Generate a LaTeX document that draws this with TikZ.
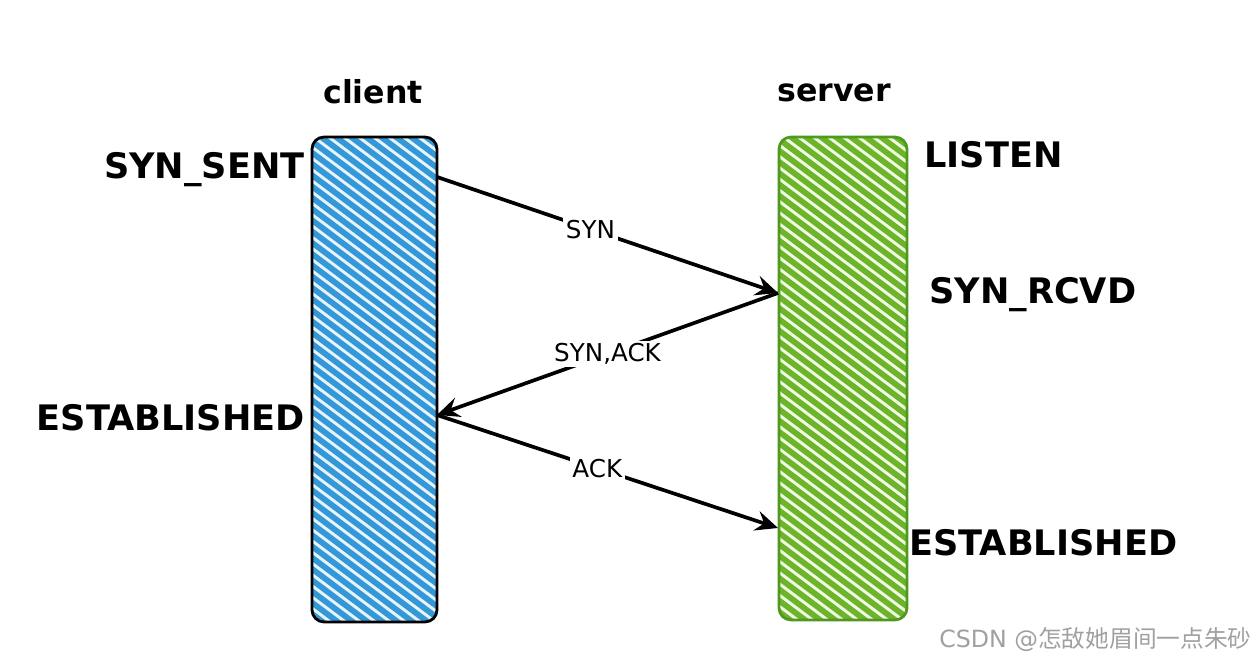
\documentclass[tikz,border=0pt]{standalone}
\usepackage{fontspec}
\setmainfont{DejaVu Sans}
\newfontfamily\cjkfont{Noto Sans CJK SC}
\usepackage{xcolor}
\usetikzlibrary{arrows.meta,positioning}

\definecolor{clientblue}{HTML}{3497D8}
\definecolor{clientbg}{HTML}{E6F4FD}
\definecolor{servergreen}{HTML}{6CB42A}
\definecolor{serverbg}{HTML}{F1FAE3}
\definecolor{serverline}{HTML}{4E9A1E}
\definecolor{markgray}{HTML}{A0A0A0}

\begin{document}
\begin{tikzpicture}[
  x=0.02cm, y=-0.02cm,
  bar/.style={rectangle, rounded corners=0.24cm, inner sep=0pt, outer sep=0pt,
    line width=1.6pt},
  hatch/.style={path picture={
    \foreach \k in {-27,...,27}
      \draw[#1, line width=0.115cm]
        ([xshift=\k*0.3cm]path picture bounding box.center)
        ++(-7cm,5.25cm) -- ++(14cm,-10.5cm);}},
  clientbar/.style={bar, draw=black, fill=clientbg, hatch=clientblue,
    minimum width=2.5cm, minimum height=9.7cm},
  serverbar/.style={bar, draw=serverline, fill=serverbg, hatch=servergreen,
    minimum width=2.56cm, minimum height=9.66cm},
  side/.style={font=\fontsize{18}{22}\selectfont\bfseries},
  state/.style={font=\fontsize{20}{24}\selectfont\bfseries, inner sep=0pt},
  msg/.style={-{Stealth[length=4.5mm, width=4mm, inset=1.6mm]}, line width=2.1pt},
  msglabel/.style={fill=white, inner sep=1.5pt, font=\fontsize{14}{16}\selectfont},
]
  \useasboundingbox (0,0) rectangle (1258,668);

  % the two hosts
  \node[clientbar] (client) at (374.5,379.5) {};
  \node[serverbar] (server) at (843,378.5) {};
  \node[side] (clientname) at (373,92) {client};
  \node[side] (servername) at (834,93) {server};

  % states
  \node[state, anchor=east] (synsent) at (305,170) {SYN\_SENT};
  \node[state, anchor=east] (cest) at (305,418) {ESTABLISHED};
  \node[state, anchor=west] (listen) at (924,155) {LISTEN};
  \node[state, anchor=west] (synrcvd) at (929,295) {SYN\_RCVD};
  \node[state, anchor=west] (sest) at (909,543) {ESTABLISHED};

  % message ends
  \coordinate (c-syn) at (437,177);
  \coordinate (s-syn) at (778,293);
  \coordinate (c-est) at (437,415);
  \coordinate (s-est) at (778,528);

  \draw[msg] (c-syn) -- node[msglabel, pos=0.45] {SYN} (s-syn);
  \draw[msg] (s-syn) -- node[msglabel, pos=0.5] {SYN,ACK} (c-est);
  \draw[msg] (c-est) -- node[msglabel, pos=0.47] {ACK} (s-est);

  \node[anchor=east, text=markgray, inner sep=0pt, font=\fontsize{13.5}{16}\selectfont]
    (mark) at (1252,640) {CSDN @{\cjkfont 怎敌她眉间一点朱砂}};
\end{tikzpicture}
\end{document}
